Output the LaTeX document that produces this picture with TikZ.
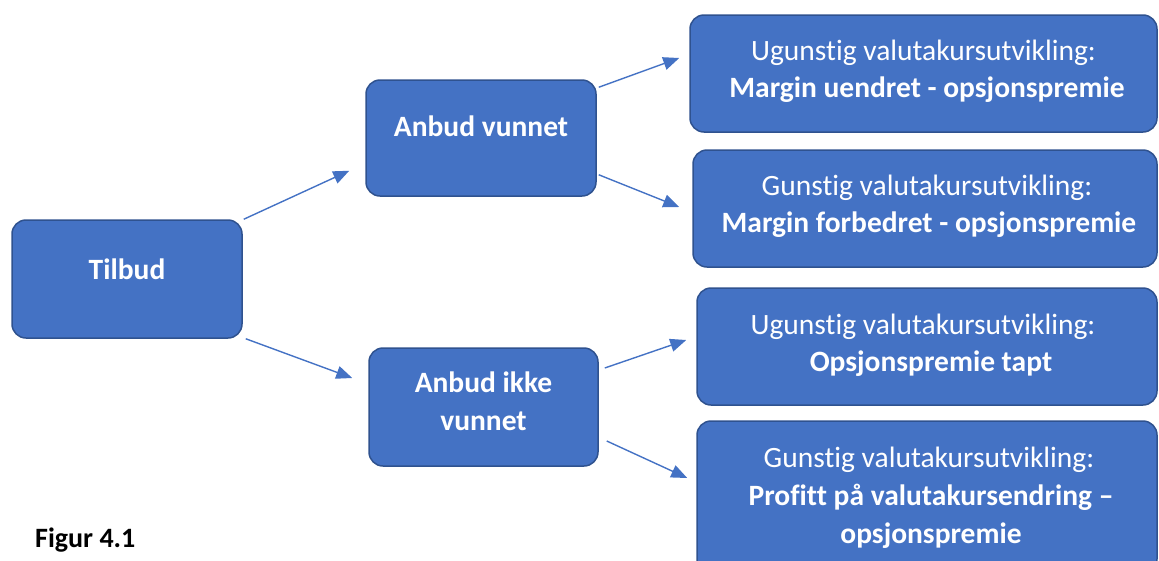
\documentclass[tikz,border=0pt]{standalone}
\usepackage{fontspec}
\setmainfont{Carlito}[Ligatures={NoCommon}]
\usetikzlibrary{arrows.meta}
\definecolor{boxfill}{HTML}{4472C4}
\definecolor{boxline}{HTML}{2F528F}
\definecolor{arrowc}{HTML}{4472C4}
\tikzset{
  box/.style={draw=boxline, fill=boxfill, line width=1.5pt, rounded corners=14pt, inner sep=0pt},
  ln/.style={anchor=base, text=white, inner sep=0pt, font=\fontsize{29.5}{35}\selectfont},
  lnb/.style={ln, font=\fontsize{29.5}{35}\selectfont\bfseries},
  conn/.style={draw=arrowc, line width=1.4pt, -{Triangle[length=16pt,width=13pt]}},
}
\begin{document}
\begin{tikzpicture}[x=1pt,y=-1pt]
\useasboundingbox (0,0) rectangle (1159,560);
\clip (0,0) rectangle (1159,560);
% boxes
\node[box, minimum width=230pt, minimum height=118pt] (tilbud) at (127,279) {};
\node[box, minimum width=230pt, minimum height=116pt] (av) at (481,138) {};
\node[box, minimum width=229pt, minimum height=118pt] (aiv) at (483.5,407) {};
\node[box, minimum width=467pt, minimum height=117pt] (b1) at (923.5,73.5) {};
\node[box, minimum width=464pt, minimum height=117pt] (b2) at (925,208.5) {};
\node[box, minimum width=460pt, minimum height=117pt] (b3) at (927,346.5) {};
\node[box, minimum width=460pt, minimum height=152pt] (b4) at (927,497) {};
% texts
\node[lnb] (t0) at (127,279) {Tilbud};
\node[lnb] (ta) at (481,136.5) {Anbud vunnet};
\node[lnb] (tb1) at (483.5,392) {Anbud ikke};
\node[lnb] (tb2) at (483.5,430) {vunnet};
\node[ln] (t11) at (923.5,60.5) {Ugunstig valutakursutvikling:};
\node[lnb] (t12) at (927,97.5) {Margin uendret - opsjonspremie};
\node[ln] (t21) at (927,195.5) {Gunstig valutakursutvikling:};
\node[lnb] (t22) at (929,232.5) {Margin forbedret - opsjonspremie};
\node[ln] (t31) at (923,334.5) {Ugunstig valutakursutvikling:};
\node[lnb] (t32) at (931,371.5) {Opsjonspremie tapt};
\node[ln] (t41) at (929,467.5) {Gunstig valutakursutvikling:};
\node[lnb] (t42) at (931,505) {Profitt på valutakursendring –};
\node[lnb] (t43) at (931,543) {opsjonspremie};
\node[anchor=base west, inner sep=0pt, font=\fontsize{28}{33}\selectfont\bfseries] (fig) at (35,547) {Figur 4.1};
% connectors
\draw[conn] ([shift={(1,0)}]tilbud.north east) -- ([shift={(-16,-26)}]av.south west);
\draw[conn] ([shift={(3,0)}]tilbud.south east) -- ([shift={(-16,-29)}]aiv.west);
\draw[conn] ([shift={(2,8)}]av.north east) -- ([shift={(-10,-15.5)}]b1.west);
\draw[conn] ([shift={(2,-22)}]av.south east) -- ([shift={(-13,-1.5)}]b2.west);
\draw[conn] ([shift={(6,-39)}]aiv.east) -- ([shift={(-10,-6.5)}]b3.west);
\draw[conn] ([shift={(8,34)}]aiv.east) -- ([shift={(-9,-19)}]b4.west);
\end{tikzpicture}
\end{document}
